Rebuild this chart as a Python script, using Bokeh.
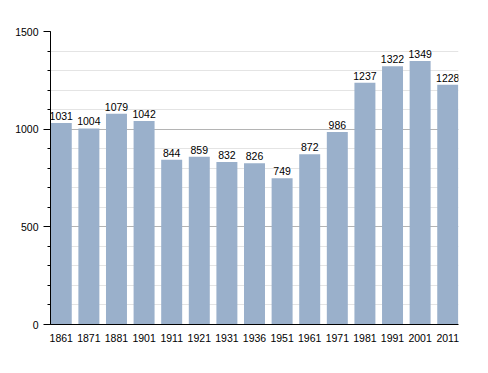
from bokeh.plotting import figure
from bokeh.models import ColumnDataSource, FixedTicker, Range1d
from bokeh.embed import file_html
from bokeh.resources import INLINE
from bokeh.core.properties import value

years = ["1861", "1871", "1881", "1901", "1911", "1921", "1931", "1936",
         "1951", "1961", "1971", "1981", "1991", "2001", "2011"]
population = [1031, 1004, 1079, 1042, 844, 859, 832, 826,
              749, 872, 986, 1237, 1322, 1349, 1228]
y_major = [0, 500, 1000, 1500]

FONT = "Liberation Sans"
FS = "10.5px"
xs = list(range(len(years)))
src = ColumnDataSource(dict(x=xs, y=population,
                            label=[str(v) for v in population]))

p = figure(width=480, height=358, output_backend="svg", toolbar_location=None,
           x_range=Range1d(-0.39, len(years) - 1 + 0.39),
           y_range=Range1d(0, 1500),
           min_border_left=50, min_border_right=22,
           min_border_top=31, min_border_bottom=34)
p.outline_line_color = None
p.background_fill_color = "white"
p.border_fill_color = "white"

p.vbar(x="x", top="y", width=0.76, source=src, fill_color="#9ab0cb",
       line_color=None)
p.text(x="x", y="y", text="label", source=src, text_align="center",
       text_baseline="bottom", y_offset=-3, text_font=value(FONT),
       text_font_size=FS, text_color="black")

# x axis
p.xaxis.ticker = FixedTicker(ticks=xs)
p.xaxis.major_label_overrides = {i: y for i, y in enumerate(years)}
p.xaxis.major_tick_line_color = None
p.xaxis.minor_tick_line_color = None
p.xaxis.axis_line_color = "black"
p.xaxis.major_label_standoff = 3
p.xaxis.major_label_text_font = FONT
p.xaxis.major_label_text_font_size = FS
p.xaxis.major_label_text_color = "black"
p.xgrid.grid_line_color = None

# y axis
p.yaxis.ticker = FixedTicker(ticks=y_major,
                             minor_ticks=list(range(0, 1501, 100)))
p.yaxis.axis_line_color = "black"
p.yaxis.major_tick_out = 7
p.yaxis.major_tick_in = 0
p.yaxis.minor_tick_out = 3
p.yaxis.minor_tick_in = 0
p.yaxis.major_tick_line_color = "black"
p.yaxis.minor_tick_line_color = "black"
p.yaxis.major_label_standoff = 5
p.yaxis.major_label_text_font = FONT
p.yaxis.major_label_text_font_size = FS
p.yaxis.major_label_text_color = "black"
p.ygrid.grid_line_color = "#b4b4b4"
p.ygrid.minor_grid_line_color = "#e4e4e4"

open("out.html", "w").write(file_html(p, INLINE))
